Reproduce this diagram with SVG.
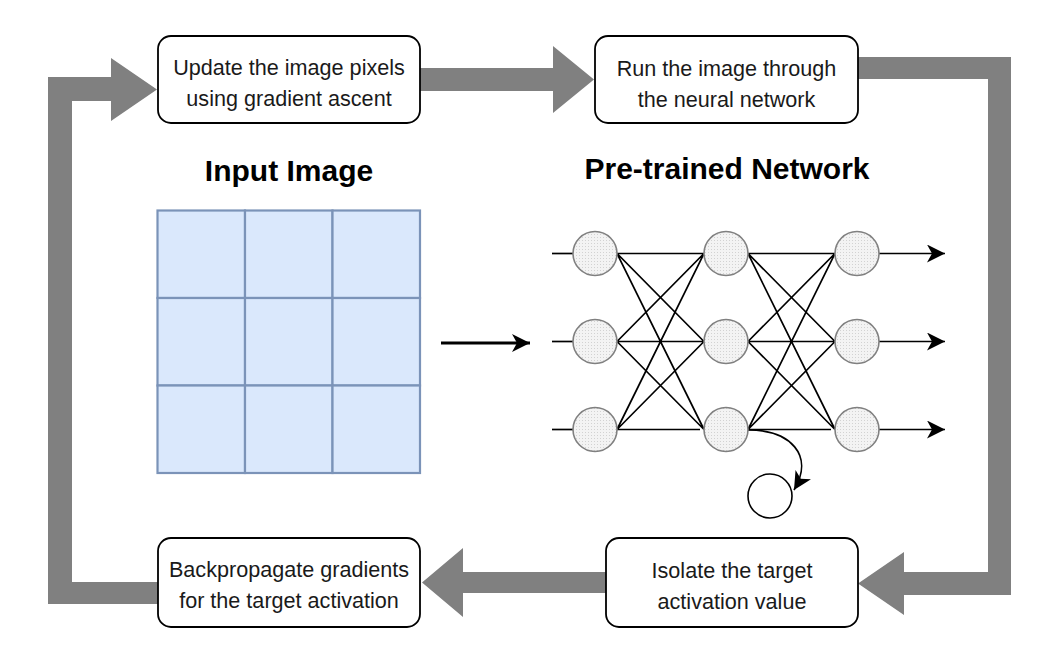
<svg xmlns="http://www.w3.org/2000/svg" width="1050" height="664" viewBox="0 0 1050 664">
<defs>
<style>
.box{fill:#fff;stroke:#000;stroke-width:1.8}
.lbl{font-family:"Liberation Sans",Arial,sans-serif;font-size:21.6px;fill:#1a1a1a;text-anchor:middle}
.title{font-family:"Liberation Sans",Arial,sans-serif;font-size:30px;font-weight:bold;fill:#000;text-anchor:middle}
.big{fill:#808080;stroke:none}
.cell{fill:#dae8fc;stroke:#7b93b8;stroke-width:2.2}
.neuron{fill:url(#dots);stroke:#808080;stroke-width:1.6}
.edge{stroke:#000;stroke-width:1.7;fill:none}
</style>
<pattern id="dots" width="3" height="3" patternUnits="userSpaceOnUse">
<rect width="3" height="3" fill="#f3f3f3"/>
<rect width="1" height="1" fill="#d2d2d2"/>
</pattern>
<marker id="ah" markerUnits="userSpaceOnUse" markerWidth="20" markerHeight="20" refX="18" refY="9" orient="auto">
<path d="M0,0 L18,9 L0,18 L5,9 Z" fill="#000"/>
</marker>
</defs>
<rect width="1050" height="664" fill="#fff"/>

<g id="connectors">
<polygon class="big" points="48,604 158,604 158,582 72,582 72,101 111,101 111,121 157,89.5 111,58 111,77 48,77"/>
<polygon class="big" points="420,68 553,68 553,46 594,79.5 553,113 553,91 420,91"/>
<polygon class="big" points="858,57 1011,57 1011,595 904,595 904,615 858,583.5 904,552 904,572 988,572 988,79 858,79"/>
<polygon class="big" points="606,572 463,572 463,548 422,582.5 463,617 463,593 606,593"/>
<line x1="441" y1="343" x2="530" y2="343" stroke="#000" stroke-width="3" marker-end="url(#ah)"/>
</g>

<g id="box-update">
<rect class="box" x="158" y="36" width="262" height="87" rx="13"/>
<text class="lbl" x="289" y="75">Update the image pixels</text>
<text class="lbl" x="289" y="106">using gradient ascent</text>
</g>
<g id="box-run">
<rect class="box" x="595" y="36" width="263" height="87" rx="13"/>
<text class="lbl" x="726.5" y="75.5">Run the image through</text>
<text class="lbl" x="726.5" y="106.5">the neural network</text>
</g>
<g id="box-backprop">
<rect class="box" x="158" y="538" width="262" height="89" rx="13"/>
<text class="lbl" x="289" y="577">Backpropagate gradients</text>
<text class="lbl" x="289" y="608">for the target activation</text>
</g>
<g id="box-isolate">
<rect class="box" x="606" y="538" width="252" height="89" rx="13"/>
<text class="lbl" x="732" y="577.5">Isolate the target</text>
<text class="lbl" x="732" y="608.5">activation value</text>
</g>

<g id="title-input">
<text class="title" x="289" y="181">Input Image</text>
</g>
<g id="title-network">
<text class="title" x="727" y="179">Pre-trained Network</text>
</g>

<g id="input-grid">
<rect class="cell" x="157.5" y="210.5" width="87.5" height="87.5"/>
<rect class="cell" x="245" y="210.5" width="87.5" height="87.5"/>
<rect class="cell" x="332.5" y="210.5" width="87.5" height="87.5"/>
<rect class="cell" x="157.5" y="298" width="87.5" height="87.5"/>
<rect class="cell" x="245" y="298" width="87.5" height="87.5"/>
<rect class="cell" x="332.5" y="298" width="87.5" height="87.5"/>
<rect class="cell" x="157.5" y="385.5" width="87.5" height="87.5"/>
<rect class="cell" x="245" y="385.5" width="87.5" height="87.5"/>
<rect class="cell" x="332.5" y="385.5" width="87.5" height="87.5"/>
</g>

<g id="network">
<g id="network-edges">
<line class="edge" x1="552" y1="253.5" x2="573" y2="253.5"/>
<line class="edge" x1="552" y1="341.5" x2="573" y2="341.5"/>
<line class="edge" x1="552" y1="429.5" x2="573" y2="429.5"/>
<path class="edge" d="M617,253.5 L704,253.5 M617,253.5 L704,341.5 M617,253.5 L704,429.5 M617,341.5 L704,253.5 M617,341.5 L704,341.5 M617,341.5 L704,429.5 M617,429.5 L704,253.5 M617,429.5 L704,341.5 M617,429.5 L700,429.5"/>
<path class="edge" d="M748,253.5 L835,253.5 M748,253.5 L835,341.5 M748,253.5 L835,429.5 M748,341.5 L835,253.5 M748,341.5 L835,341.5 M748,341.5 L835,429.5 M748,429.5 L835,253.5 M748,429.5 L835,341.5 M748,429.5 L831,429.5"/>
<line class="edge" x1="879" y1="253.5" x2="945" y2="253.5" marker-end="url(#ah)"/>
<line class="edge" x1="879" y1="341.5" x2="945" y2="341.5" marker-end="url(#ah)"/>
<line class="edge" x1="879" y1="429.5" x2="945" y2="429.5" marker-end="url(#ah)"/>
<path class="edge" d="M748,430 C790,430 815,455 794,490" marker-end="url(#ah)"/>
</g>
<circle id="n11" class="neuron" cx="595" cy="253.5" r="22"/>
<circle id="n12" class="neuron" cx="595" cy="341.5" r="22"/>
<circle id="n13" class="neuron" cx="595" cy="429.5" r="22"/>
<circle id="n21" class="neuron" cx="726" cy="253.5" r="22"/>
<circle id="n22" class="neuron" cx="726" cy="341.5" r="22"/>
<circle id="n23" class="neuron" cx="726" cy="429.5" r="22"/>
<circle id="n31" class="neuron" cx="857" cy="253.5" r="22"/>
<circle id="n32" class="neuron" cx="857" cy="341.5" r="22"/>
<circle id="n33" class="neuron" cx="857" cy="429.5" r="22"/>
<circle id="target" cx="770" cy="496" r="22" fill="#fff" stroke="#000" stroke-width="1.6"/>
</g>
</svg>
